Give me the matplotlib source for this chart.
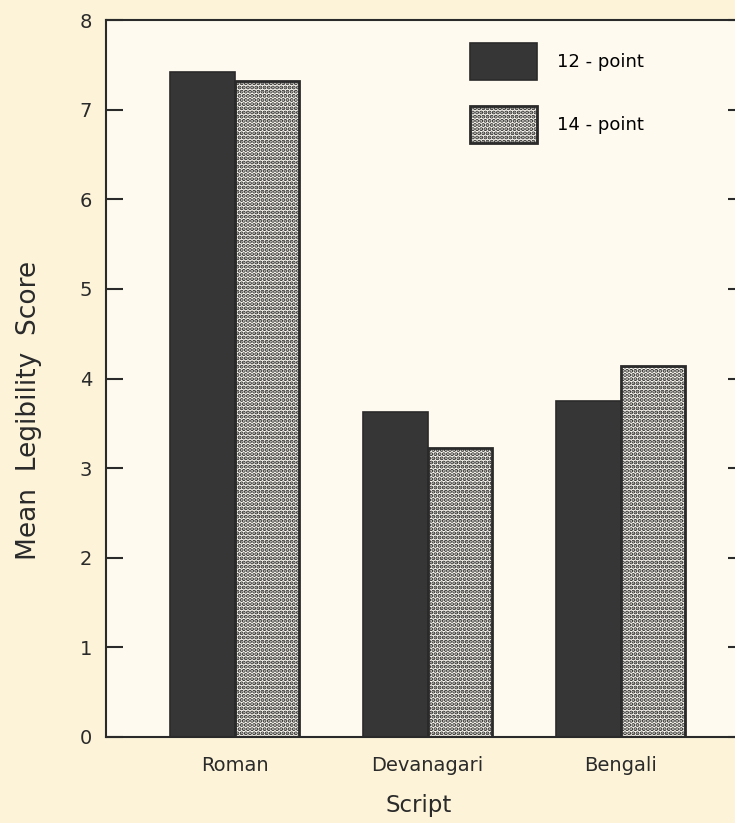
import numpy as np
import matplotlib.pyplot as plt

scripts = ["Roman", "Devanagari", "Bengali"]
pt12 = [7.42, 3.63, 3.75]
pt14 = [7.32, 3.23, 4.14]
series_labels = ["12 - point", "14 - point"]
y_ticks = [0, 1, 2, 3, 4, 5, 6, 7, 8]

plt.rcParams['font.family'] = ['DejaVu Sans']
plt.rcParams['hatch.linewidth'] = 2.0
plt.rcParams['hatch.color'] = '#2a2a2a'

ink = '#2a2a2a'
fig = plt.figure(figsize=(7.35, 8.23), dpi=100, facecolor='#fcf3d8')
ax = fig.add_axes([106/735, 86/823, 639/735, 717/823], facecolor='#fefaf0')

x = np.arange(len(scripts))
w = 0.335
ax.bar(x - w/2, pt12, w, color='#363636', edgecolor=ink, linewidth=1.2,
       label=series_labels[0])
ax.bar(x + w/2, pt14, w, color='#fdfaf2', edgecolor=ink, linewidth=2,
       hatch='....', label=series_labels[1])

ax.set_xlim(-0.668, 2.645)
ax.set_ylim(0, 8)
ax.set_yticks(y_ticks)
ax.set_xticks(x)
ax.set_xticklabels(scripts, fontsize=14)
ax.tick_params(axis='y', direction='in', length=12, width=1.5, right=True,
               labelsize=14, pad=10, colors=ink)
ax.tick_params(axis='x', length=0, pad=14, colors=ink)
for s in ax.spines.values():
    s.set_linewidth(1.5)
    s.set_color(ink)
ax.spines['right'].set_visible(False)

ax.set_ylabel("Mean  Legibility  Score", fontsize=19, color=ink)
ax.yaxis.set_label_coords(-0.100, 0.455)
ax.set_xlabel("Script", fontsize=16.5, color=ink)
ax.xaxis.set_label_coords(0.490, -0.080)

leg = ax.legend(loc='upper left', bbox_to_anchor=(0.570, 0.968), frameon=False,
                fontsize=13, handlelength=3.7, handleheight=2.75,
                labelspacing=1.45, handletextpad=1.1, borderaxespad=0,
                borderpad=0)

fig.savefig("out.png", dpi=100, facecolor=fig.get_facecolor())
